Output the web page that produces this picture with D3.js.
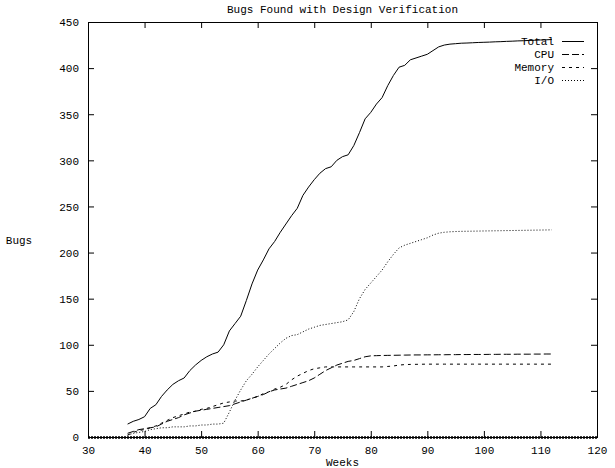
<!DOCTYPE html>
<html><head><meta charset="utf-8">
<script src="https://cdn.jsdelivr.net/npm/d3@7"></script>
<style>body{margin:0;background:#fff}svg{display:block}text{font-family:"Liberation Mono","Courier New",monospace;font-size:11px;fill:#000}</style>
</head><body><svg id="c" width="615" height="468"></svg>
<script>
const weeks = [37,38,39,40,41,42,43,44,45,46,47,48,49,50,51,52,53,54,55,56,57,58,59,60,61,62,63,64,65,66,67,68,69,70,71,72,73,74,75,76,77,78,79,80,81,82,83,84,85,86,87,88,89,90,91,92,93,94,95,96,97,98,99,100,101,102,103,104,105,106,107,108,109,110,111,112];
const total = [14,17,19,22,31,35,44,51,57,61,64,72,78,83,87,90,92,100,115,123,131,148,166,181,192,204,212,222,231,240,248,262,271,279,286,291,293,300,304,306,316,330,345,352,361,368,381,392,401,403,409,411,413,415,419,423,425,426,426.5,427,427.2,427.5,427.8,428,428.2,428.5,428.7,429,429.2,429.5,429.7,430,430.2,430.5,430.7,431];
const cpu = [4,6,8,9,10,11,14,17,19,21,24,26,28,29,30,31,32,33,34,36,38,40,42,44,46,49,51,52,53,55,57,59,61,64,68,72,75,78,80,82,83,85,87,88,88.2,88.4,88.5,88.6,88.7,88.8,88.9,89,89,89.1,89.1,89.2,89.2,89.3,89.3,89.4,89.4,89.5,89.5,89.5,89.6,89.6,89.7,89.7,89.7,89.8,89.8,89.8,89.9,89.9,90,90];
const memory = [2,5,7,8,10,12,15,18,21,23,25,27,28,30,31,33,35,37,38,39,39,40,42,44,47,49,52,54,57,62,66,69,72,74,75,76,76,76,76,76,76,76,76,76,76,76,76.5,77,78,78.5,78.7,78.8,78.9,79,79,79,79,79,79,79,79,79,79,79,79,79,79,79,79,79,79,79,79,79,79,79];
const io = [2,4,5,6,8,9,10,10,11,11,11,12,12,13,13,14,14,15,27,40,51,61,68,76,83,90,96,102,107,110,111,114,117,119,121,122,123,124,125,127,136,150,160,167,174,181,190,198,205,208,210,212,214,216,219,221,222,222.5,222.8,223,223.1,223.2,223.3,223.4,223.5,223.6,223.7,223.8,223.9,224,224.1,224.2,224.3,224.4,224.5,224.6];
const xTicks = [30,40,50,60,70,80,90,100,110,120];
const yTicks = [0,50,100,150,200,250,300,350,400,450];
const seriesNames = ["Total","CPU","Memory","I/O"];
const seriesValues = [total, cpu, memory, io];
const dashes = [null, "7,3", "3,4", "1,2"];

const svg = d3.select("#c");
const L = 88, R = 597, T = 22, B = 437;
const x = d3.scaleLinear().domain([30,120]).range([L,R]);
const y = d3.scaleLinear().domain([0,450]).range([B,T]);

const tl = 6;
const gx = svg.append("g").attr("transform",`translate(0,${B})`)
  .call(d3.axisBottom(x).tickValues(xTicks).tickSize(-tl).tickPadding(9).tickFormat(d3.format("d")));
const gxt = svg.append("g").attr("transform",`translate(0,${T})`)
  .call(d3.axisTop(x).tickValues(xTicks).tickSize(-tl).tickFormat(""));
const gy = svg.append("g").attr("transform",`translate(${L},0)`)
  .call(d3.axisLeft(y).tickValues(yTicks).tickSize(-tl).tickPadding(9).tickFormat(d3.format("d")));
const gyr = svg.append("g").attr("transform",`translate(${R},0)`)
  .call(d3.axisRight(y).tickValues(yTicks).tickSize(-tl).tickFormat(""));
[gx,gxt,gy,gyr].forEach(g=>{
  g.select(".domain").remove();
  g.selectAll("line").attr("stroke","#000").attr("stroke-width",1);
  g.selectAll("text").attr("font-family",null).attr("font-size",null);
});
gx.selectAll("text").attr("dy","0.71em");
gy.selectAll("text").attr("dy","0.35em");

svg.append("rect").attr("x",L).attr("y",T).attr("width",R-L).attr("height",B-T)
  .attr("fill","none").attr("stroke","#000").attr("stroke-width",1).attr("shape-rendering","crispEdges");
svg.append("line").attr("x1",x(30)).attr("x2",x(120)).attr("y1",y(0)+0.5).attr("y2",y(0)+0.5)
  .attr("stroke","#000").attr("stroke-width",2.5).attr("stroke-dasharray","2,1");

const line = d3.line().x((d,i)=>x(weeks[i])).y(d=>y(d));
seriesValues.forEach((vals,k)=>{
  svg.append("path").datum(vals).attr("d",line).attr("fill","none")
    .attr("stroke","#000").attr("stroke-width",1)
    .attr("stroke-dasharray",dashes[k]);
});

const ly0 = 41.5, ldy = 13;
seriesNames.forEach((n,k)=>{
  const yy = ly0 + k*ldy;
  svg.append("text").attr("x",554).attr("y",yy).attr("dy","0.35em").attr("text-anchor","end").text(n);
  svg.append("line").attr("x1",562).attr("x2",584).attr("y1",yy).attr("y2",yy)
    .attr("stroke","#000").attr("stroke-width",1).attr("stroke-dasharray",dashes[k]);
});

svg.append("text").attr("x",(L+R)/2).attr("y",13).attr("text-anchor","middle").text("Bugs Found with Design Verification");
svg.append("text").attr("x",(L+R)/2).attr("y",466).attr("text-anchor","middle").text("Weeks");
svg.append("text").attr("x",19).attr("y",244).attr("text-anchor","middle").text("Bugs");
</script></body></html>
